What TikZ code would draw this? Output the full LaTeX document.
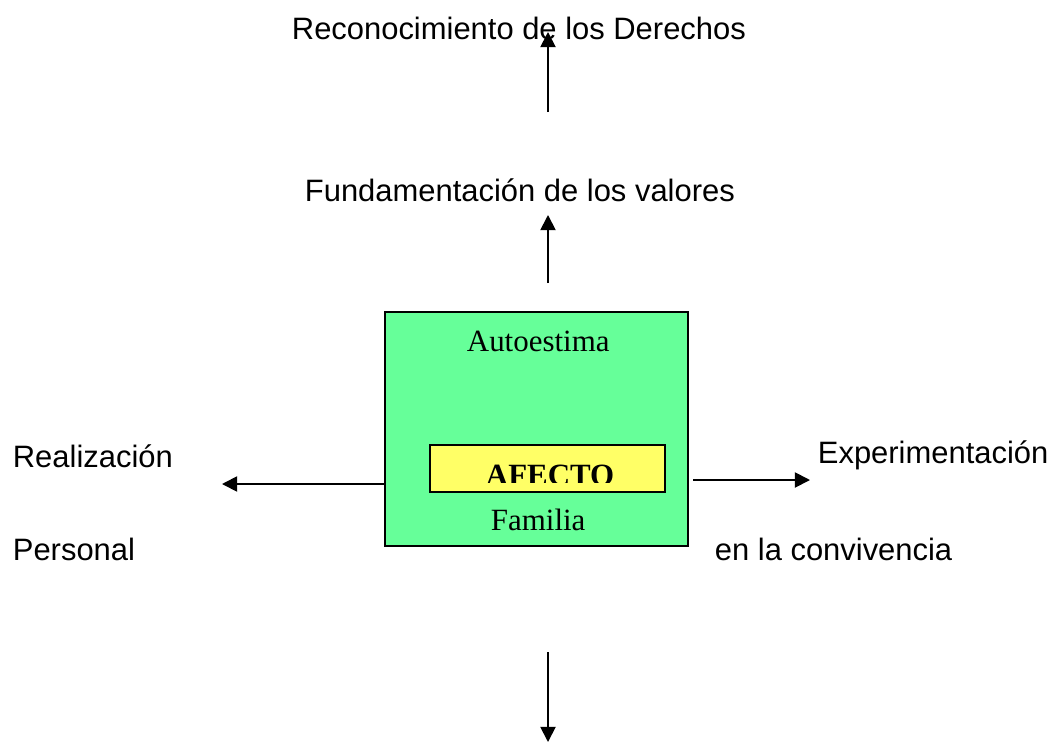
\documentclass[tikz,border=0pt]{standalone}
\usepackage{fontspec}
\setmainfont{Liberation Serif}
\newfontfamily\arialfont{Liberation Sans}
\usetikzlibrary{arrows.meta, positioning}
\definecolor{boxgreen}{HTML}{66FF99}
\definecolor{boxyellow}{HTML}{FFFF66}
\tikzset{> = { Triangle[length = 3.8mm, width = 3.8mm] }}

\begin{document}
\begin{tikzpicture}[x = 0.025cm, y = -0.025cm, line width = 1.3pt, ->, label/.style = { anchor = base west, inner sep = 0pt, font = \arialfont\fontsize{22}{26}\selectfont }, serif/.style = { anchor = base west, inner sep = 0pt, font = \fontsize{22}{26}\selectfont }, panel/.style = { draw, anchor = north west, inner sep = 0pt, outer sep = 0pt }]
				\useasboundingbox (0, 0) rectangle (1057, 742);

				\node [label] (rights) at (291, 40) {Reconocimiento de los Derechos};
				\node [label] (values) at (304, 201) {Fundamentación de los valores};
				\node [label] (realiz) at (12, 467) {Realización};
				\node [label] (personal) at (12, 560) {Personal};
				\node [label] (exper) at (817, 463) {Experimentación};
				\node [label] (conviv) at (714, 560) {en la convivencia};

				\node [panel, fill = boxgreen, minimum width = 7.575cm, minimum height = 5.85cm] (box) at (385, 312) {};
				\node [panel, fill = boxyellow, minimum width = 5.875cm, minimum height = 1.175cm] (yellow) at (430, 445) {};
				\node [serif] (self) at (466, 351) {Autoestima};
				\node [serif] (family) at (490, 530) {Familia};
				\begin{scope}
					\clip (431, 446) rectangle (664, 482);
					\node [serif, font = \fontsize{22}{26}\selectfont\bfseries] (affect) at (485, 485) {AFECTO};
				\end{scope}

				\coordinate (t1) at (548, 112);
				\coordinate (t2) at (548, 32);
				\coordinate (v1) at (548, 283);
				\coordinate (v2) at (548, 215);
				\coordinate (l1) at (385, 484);
				\coordinate (l2) at (222, 484);
				\coordinate (r1) at (693, 480);
				\coordinate (r2) at (810, 480);
				\coordinate (b1) at (548, 652);
				\coordinate (b2) at (548, 742);

				\draw (t1) -- (t2);
				\draw (v1) -- (v2);
				\draw (l1) -- (l2);
				\draw (r1) -- (r2);
				\draw (b1) -- (b2);
			\end{tikzpicture}
\end{document}
